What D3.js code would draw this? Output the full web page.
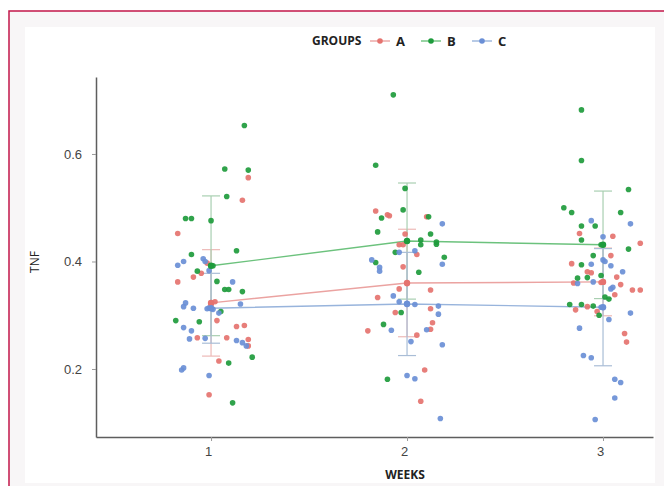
<!DOCTYPE html>
<html>
<head>
<meta charset="utf-8">
<script src="https://cdn.jsdelivr.net/npm/d3@7"></script>
<style>
  body { margin: 0; background: #ffffff; }
  svg { display: block; }
</style>
</head>
<body>
<div id="container"></div>
<script>
// groups and weeks
const groups = ["A", "B", "C"];
const weeks = [1, 2, 3];
const yTicks = [0.2, 0.4, 0.6];

// jittered points: [week position, TNF]
const pointsA = [
  [1.19,0.556],[1.16,0.514],[0.83,0.452],[0.98,0.397],[0.95,0.378],[0.91,0.371],[0.83,0.362],
  [1.02,0.325],[1.00,0.320],[1.03,0.290],[1.13,0.279],[1.17,0.281],[0.93,0.258],[1.08,0.258],
  [1.19,0.255],[1.19,0.243],[1.04,0.215],[0.99,0.152],
  [1.84,0.494],[1.90,0.487],[1.91,0.485],[2.10,0.483],[1.99,0.451],[1.96,0.431],[1.98,0.431],
  [2.05,0.413],[1.98,0.390],[2.00,0.359],[1.96,0.349],[2.12,0.347],[1.85,0.333],[2.12,0.312],
  [1.94,0.305],[2.13,0.286],[2.12,0.274],[1.80,0.271],[2.05,0.263],[2.09,0.198],[2.07,0.140],
  [2.88,0.452],[3.05,0.447],[3.19,0.434],[3.04,0.411],[2.84,0.396],[2.92,0.381],[2.94,0.379],
  [3.07,0.371],[2.99,0.361],[2.85,0.360],[3.09,0.357],[3.15,0.347],[3.19,0.347],[3.06,0.338],
  [2.86,0.310],[2.92,0.316],[2.97,0.307],[3.11,0.266],[3.12,0.250]
];
const pointsB = [
  [1.17,0.653],[1.07,0.572],[1.19,0.570],[1.08,0.521],[0.87,0.480],[0.90,0.480],[1.00,0.476],
  [0.90,0.413],[1.13,0.420],[1.01,0.392],[0.93,0.382],[1.03,0.363],[1.07,0.348],[1.09,0.348],
  [1.16,0.344],[1.05,0.307],[0.82,0.290],[0.94,0.288],[1.21,0.222],[1.09,0.211],[1.11,0.137],
  [1.93,0.710],[1.84,0.579],[1.99,0.536],[1.98,0.496],[1.87,0.481],[2.11,0.483],[1.85,0.455],
  [2.12,0.451],[2.00,0.438],[2.07,0.440],[2.07,0.431],[2.15,0.436],[2.15,0.432],[1.94,0.417],
  [2.19,0.408],[1.84,0.398],[2.06,0.380],[1.97,0.305],[1.88,0.283],[1.90,0.181],
  [2.89,0.682],[2.89,0.588],[3.13,0.534],[2.80,0.500],[2.84,0.491],[3.09,0.491],[2.89,0.466],
  [2.96,0.466],[2.89,0.440],[2.99,0.431],[3.13,0.423],[2.95,0.411],[2.89,0.394],[2.87,0.369],
  [2.92,0.370],[2.99,0.374],[3.01,0.334],[3.03,0.330],[2.83,0.320],[2.89,0.320],[2.95,0.317],
  [2.98,0.300]
];
const pointsC = [
  [0.83,0.393],[0.86,0.400],[0.96,0.405],[0.97,0.400],[0.99,0.383],[1.11,0.362],[0.87,0.323],
  [0.86,0.316],[0.91,0.313],[0.98,0.312],[0.99,0.314],[1.01,0.311],[1.04,0.304],[1.15,0.321],
  [0.86,0.277],[0.90,0.271],[0.89,0.256],[0.97,0.257],[1.13,0.253],[1.16,0.249],[1.18,0.243],
  [0.86,0.202],[0.85,0.198],[0.99,0.188],
  [2.18,0.470],[1.96,0.417],[2.04,0.420],[2.18,0.395],[1.82,0.403],[1.86,0.389],[1.86,0.382],
  [1.93,0.336],[1.96,0.325],[2.00,0.322],[2.04,0.320],[2.16,0.317],[2.16,0.302],[2.10,0.273],
  [1.92,0.272],[2.02,0.251],[2.18,0.245],[2.00,0.188],[2.04,0.182],[2.17,0.108],
  [2.94,0.476],[3.14,0.470],[3.00,0.446],[3.00,0.403],[3.01,0.400],[2.94,0.395],[3.04,0.392],
  [3.10,0.381],[2.95,0.362],[2.87,0.359],[3.04,0.349],[3.05,0.352],[2.99,0.315],[3.03,0.292],
  [3.14,0.304],[2.88,0.276],[2.90,0.225],[2.94,0.221],[3.06,0.181],[3.09,0.175],[3.06,0.146],
  [2.96,0.106]
];

// group means per week and error bar half-widths
const meansA = [0.323, 0.360, 0.362];
const meansB = [0.392, 0.438, 0.431];
const meansC = [0.313, 0.321, 0.315];
const errA = [0.099, 0.100, 0.063];
const errB = [0.130, 0.108, 0.100];
const errC = [0.065, 0.096, 0.109];

const dotColor = {A: "#e5736f", B: "#1e9b3c", C: "#6a8fd6"};
const lineColor = {A: "#eba3a1", B: "#6cc27d", C: "#98b4dc"};
const barColor = {A: "#edb9b7", B: "#a9cfb1", C: "#a9bdd6"};

const w = 664, h = 486;

const svg = d3.select("#container").append("svg")
  .attr("width", w)
  .attr("height", h)
  .style("font-family", "'Open Sans', 'Liberation Sans', sans-serif");

// page frame
svg.append("rect").attr("x", 9).attr("y", 11).attr("width", 700).attr("height", 500)
  .attr("fill", "#f8f6f7").attr("stroke", "#c2174a").attr("stroke-width", 1.5);
svg.append("rect").attr("x", 25).attr("y", 27).attr("width", 630).attr("height", 456)
  .attr("fill", "#ffffff");

const x = d3.scaleLinear().domain([0.413, 3.255]).range([96, 653]);
const y = d3.scaleLinear().domain([0.0735, 0.7432]).range([437, 77]);

// axes
const yAxis = svg.append("g").attr("transform", "translate(96,0)")
  .call(d3.axisLeft(y).tickValues(yTicks).tickFormat(d3.format(".1f")).tickSize(4).tickSizeOuter(0));
const xAxis = svg.append("g").attr("transform", "translate(0,437)")
  .call(d3.axisBottom(x).tickValues(weeks).tickFormat(d3.format("d")).tickSize(4).tickSizeOuter(0));

[yAxis, xAxis].forEach(a => {
  a.select(".domain").attr("stroke", "#5e5e5e").attr("stroke-width", 1.5);
  a.selectAll(".tick line").attr("stroke", "#9a9a9a");
  a.selectAll(".tick text").attr("fill", "#444").style("font-size", "13px")
    .style("font-family", "'Liberation Sans', Arial, sans-serif");
});
yAxis.selectAll(".tick text").attr("x", -14);
xAxis.selectAll(".tick text").attr("y", 10).attr("dx", -3);

svg.append("text").attr("x", 405).attr("y", 479).attr("text-anchor", "middle")
  .style("font-size", "12px").style("font-weight", "bold").attr("fill", "#222")
  .text("WEEKS");
svg.append("text").attr("transform", "translate(39,262) rotate(-90)").attr("text-anchor", "middle")
  .style("font-size", "12px").attr("fill", "#222").text("TNF");

// summary: error bars and mean lines
const summary = {
  A: {m: meansA, e: errA},
  B: {m: meansB, e: errB},
  C: {m: meansC, e: errC}
};
const cap = 9;

groups.forEach(g => {
  const s = summary[g];
  const gg = svg.append("g");
  weeks.forEach((wk, i) => {
    const top = y(s.m[i] + s.e[i]), bot = y(s.m[i] - s.e[i]), cx = x(wk);
    gg.append("line").attr("x1", cx).attr("x2", cx).attr("y1", top).attr("y2", bot)
      .attr("stroke", barColor[g]).attr("stroke-width", 1.2);
    [top, bot].forEach(yy => gg.append("line")
      .attr("x1", cx - cap).attr("x2", cx + cap).attr("y1", yy).attr("y2", yy)
      .attr("stroke", barColor[g]).attr("stroke-width", 1.2));
  });
  gg.append("path")
    .datum(weeks.map((wk, i) => [wk, s.m[i]]))
    .attr("fill", "none").attr("stroke", lineColor[g]).attr("stroke-width", 1.4)
    .attr("d", d3.line().x(d => x(d[0])).y(d => y(d[1])));
});

// jittered points
const pts = {A: pointsA, B: pointsB, C: pointsC};
groups.forEach(g => {
  svg.append("g").selectAll("circle")
    .data(pts[g])
    .join("circle")
      .attr("cx", d => x(d[0]))
      .attr("cy", d => y(d[1]))
      .attr("r", 2.8)
      .attr("fill", dotColor[g])
      .attr("opacity", 0.92);
});

// mean markers
groups.forEach(g => {
  svg.append("g").selectAll("circle")
    .data(weeks.map((wk, i) => [wk, summary[g].m[i]]))
    .join("circle")
      .attr("cx", d => x(d[0]))
      .attr("cy", d => y(d[1]))
      .attr("r", 3.2)
      .attr("fill", dotColor[g]);
});

// legend
const legend = svg.append("g").attr("transform", "translate(0,41)");
legend.append("text").attr("x", 312).attr("y", 4)
  .style("font-size", "12px").style("font-weight", "bold").attr("fill", "#222").text("GROUPS");
const keyX = {A: 370, B: 421, C: 472};
groups.forEach(g => {
  const k = legend.append("g").attr("transform", `translate(${keyX[g]},0)`);
  k.append("line").attr("x1", 0).attr("x2", 20).attr("stroke", lineColor[g]).attr("stroke-width", 1.4);
  k.append("circle").attr("cx", 10).attr("r", 2.8).attr("fill", dotColor[g]);
  k.append("text").attr("x", 26).attr("y", 4.5)
    .style("font-size", "13px").style("font-weight", "bold").attr("fill", "#222").text(g);
});
</script>
</body>
</html>
